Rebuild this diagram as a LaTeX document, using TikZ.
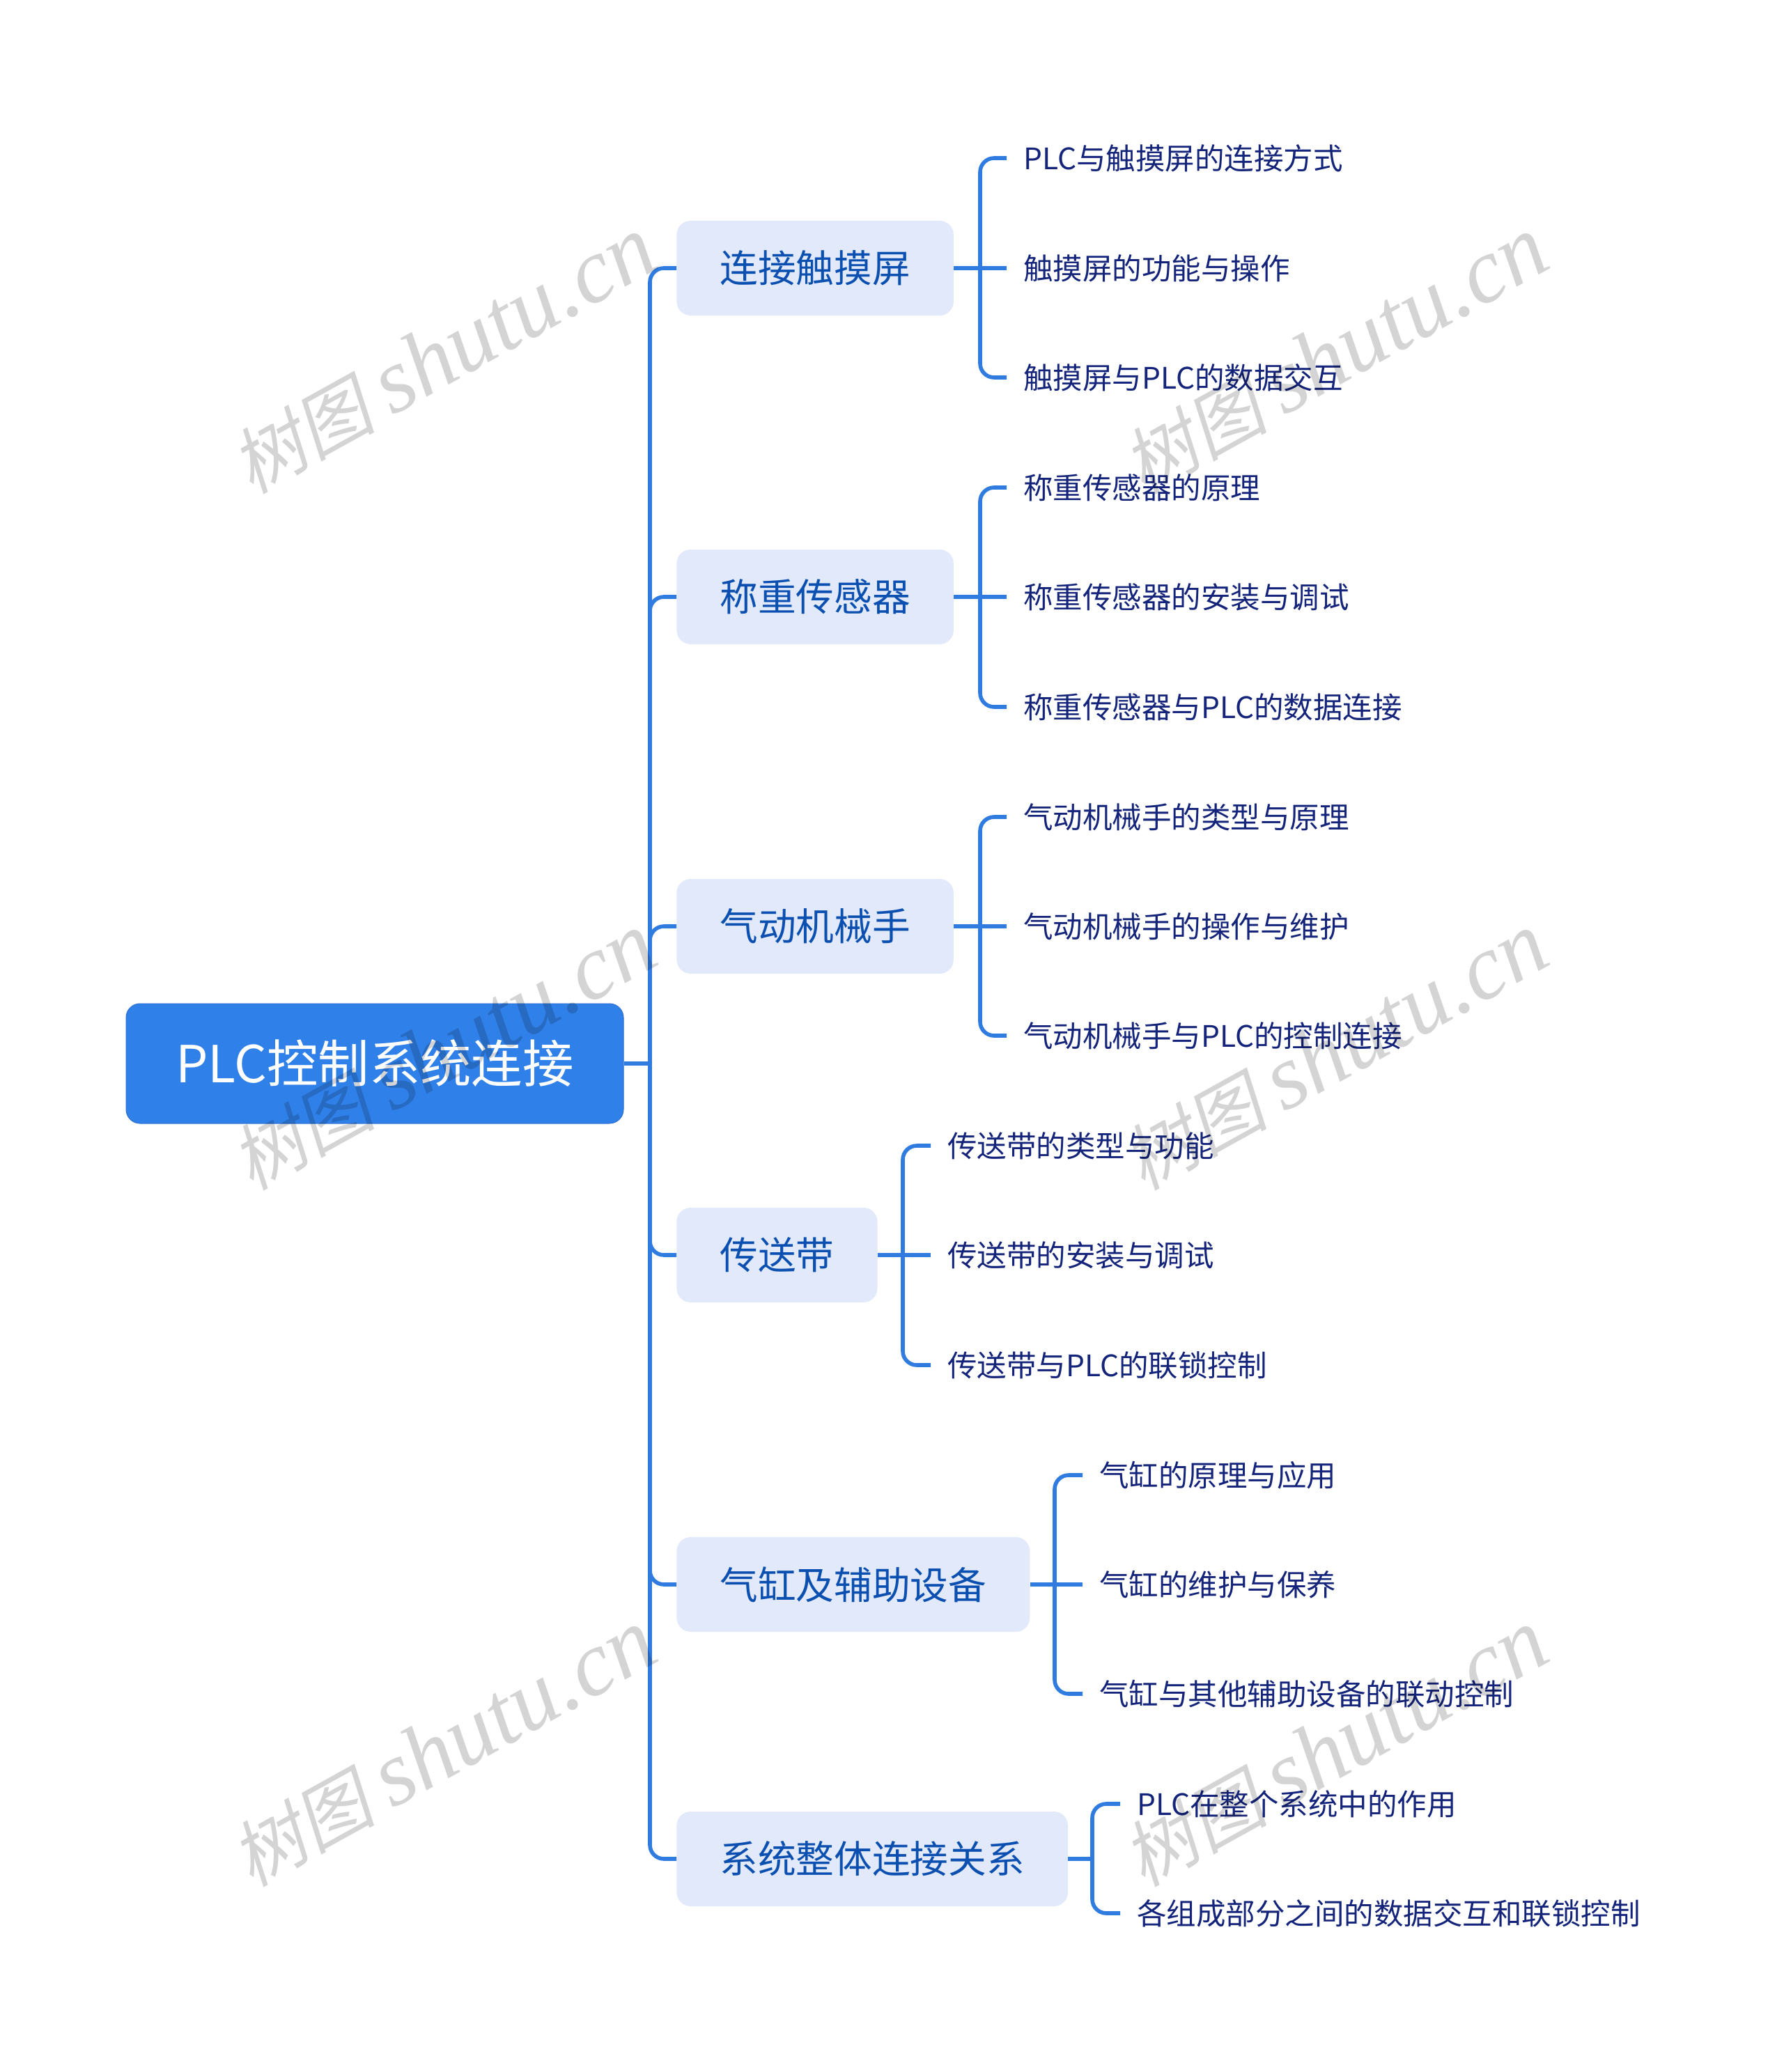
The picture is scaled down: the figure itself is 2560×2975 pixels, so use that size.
\documentclass[tikz,border=0pt]{standalone}
\usepackage{fontspec}
\setmainfont{Noto Sans CJK SC}
\newfontfamily\markcjk[FakeSlant=0.2]{Noto Sans CJK SC}
\newfontfamily\marklatin{Liberation Serif}
\definecolor{rootblue}{HTML}{3080EA}
\definecolor{rootedge}{HTML}{2D6FD0}
\definecolor{branchfill}{HTML}{E1E9FB}
\definecolor{branchtext}{HTML}{0B50B0}
\definecolor{leaftone}{HTML}{14247A}
\definecolor{linkblue}{HTML}{2F7BE0}
\tikzset{
  rootbox/.style={draw=rootedge,line width=0.5pt,fill=rootblue,text=white,rounded corners=10pt,
    minimum width=357pt,minimum height=86pt,inner sep=0pt,font=\fontsize{36.7pt}{44pt}\selectfont},
  branchbox/.style={fill=branchfill,text=branchtext,rounded corners=10pt,anchor=west,
    minimum height=68pt,inner ysep=0pt,inner xsep=31pt,font=\fontsize{27.35pt}{32pt}\selectfont},
  leaftext/.style={text=leaftone,anchor=west,inner ysep=0pt,inner xsep=12pt,
    font=\fontsize{21.25pt}{26pt}\selectfont},
  wmark/.style={text=black,text opacity=0.17,rotate=29,inner sep=0pt},
  link/.style={draw=linkblue,line width=2.8pt,rounded corners=10pt}
}
\newcommand{\wmtext}{{\markcjk\fontsize{52pt}{60pt}\selectfont 树图 \marklatin\itshape\fontsize{66pt}{70pt}\selectfont shutu.cn}}
\begin{document}
\begin{tikzpicture}[x=0.5pt,y=-0.5pt]
  \useasboundingbox (0,0) rectangle (2560,2975);
  \node[rootbox] (root) at (538,1527) {PLC控制系统连接};
  \node[branchbox] (touch) at (971,385) {连接触摸屏};
  \node[branchbox] (weigh) at (971,857) {称重传感器};
  \node[branchbox] (arm) at (971,1330) {气动机械手};
  \node[branchbox] (belt) at (971,1802) {传送带};
  \node[branchbox] (cyl) at (971,2275) {气缸及辅助设备};
  \node[branchbox] (sys) at (971,2669) {系统整体连接关系};

  \node[leaftext] (touch1) at (1445,227) {PLC与触摸屏的连接方式};
  \node[leaftext] (touch2) at (1445,385) {触摸屏的功能与操作};
  \node[leaftext] (touch3) at (1445,542) {触摸屏与PLC的数据交互};
  \node[leaftext] (weigh1) at (1445,700) {称重传感器的原理};
  \node[leaftext] (weigh2) at (1445,857) {称重传感器的安装与调试};
  \node[leaftext] (weigh3) at (1445,1015) {称重传感器与PLC的数据连接};
  \node[leaftext] (arm1) at (1445,1173) {气动机械手的类型与原理};
  \node[leaftext] (arm2) at (1445,1330) {气动机械手的操作与维护};
  \node[leaftext] (arm3) at (1445,1487) {气动机械手与PLC的控制连接};
  \node[leaftext] (belt1) at (1336,1645) {传送带的类型与功能};
  \node[leaftext] (belt2) at (1336,1802) {传送带的安装与调试};
  \node[leaftext] (belt3) at (1336,1960) {传送带与PLC的联锁控制};
  \node[leaftext] (cyl1) at (1554,2118) {气缸的原理与应用};
  \node[leaftext] (cyl2) at (1554,2275) {气缸的维护与保养};
  \node[leaftext] (cyl3) at (1554,2432) {气缸与其他辅助设备的联动控制};
  \node[leaftext] (sys1) at (1608,2590) {PLC在整个系统中的作用};
  \node[leaftext] (sys2) at (1608,2747) {各组成部分之间的数据交互和联锁控制};

  \coordinate (hub) at (933,1527);
  \coordinate (hubt) at (1407,385);
  \coordinate (hubw) at (1407,857);
  \coordinate (huba) at (1407,1330);
  \coordinate (hubb) at (1296,1802);
  \coordinate (hubc) at (1514,2275);
  \coordinate (hubs) at (1568,2669);

  \begin{scope}[link]
    \draw (root.east) -- (hub);
    \draw (hub) |- (touch.west);
    \draw (hub) |- (weigh.west);
    \draw (hub) |- (arm.west);
    \draw (hub) |- (belt.west);
    \draw (hub) |- (cyl.west);
    \draw (hub) |- (sys.west);
    \draw (touch.east) -- (touch2.west);
    \draw (hubt) |- (touch1.west);
    \draw (hubt) |- (touch3.west);
    \draw (weigh.east) -- (weigh2.west);
    \draw (hubw) |- (weigh1.west);
    \draw (hubw) |- (weigh3.west);
    \draw (arm.east) -- (arm2.west);
    \draw (huba) |- (arm1.west);
    \draw (huba) |- (arm3.west);
    \draw (belt.east) -- (belt2.west);
    \draw (hubb) |- (belt1.west);
    \draw (hubb) |- (belt3.west);
    \draw (cyl.east) -- (cyl2.west);
    \draw (hubc) |- (cyl1.west);
    \draw (hubc) |- (cyl3.west);
    \draw (sys.east) -- (hubs);
    \draw (hubs) |- (sys1.west);
    \draw (hubs) |- (sys2.west);
  \end{scope}

  \node[wmark] (mark1) at (636,510) {\wmtext};
  \node[wmark] (mark2) at (1916,510) {\wmtext};
  \node[wmark] (mark3) at (636,1510) {\wmtext};
  \node[wmark] (mark4) at (1916,1510) {\wmtext};
  \node[wmark] (mark5) at (636,2510) {\wmtext};
  \node[wmark] (mark6) at (1916,2510) {\wmtext};
\end{tikzpicture}
\end{document}
